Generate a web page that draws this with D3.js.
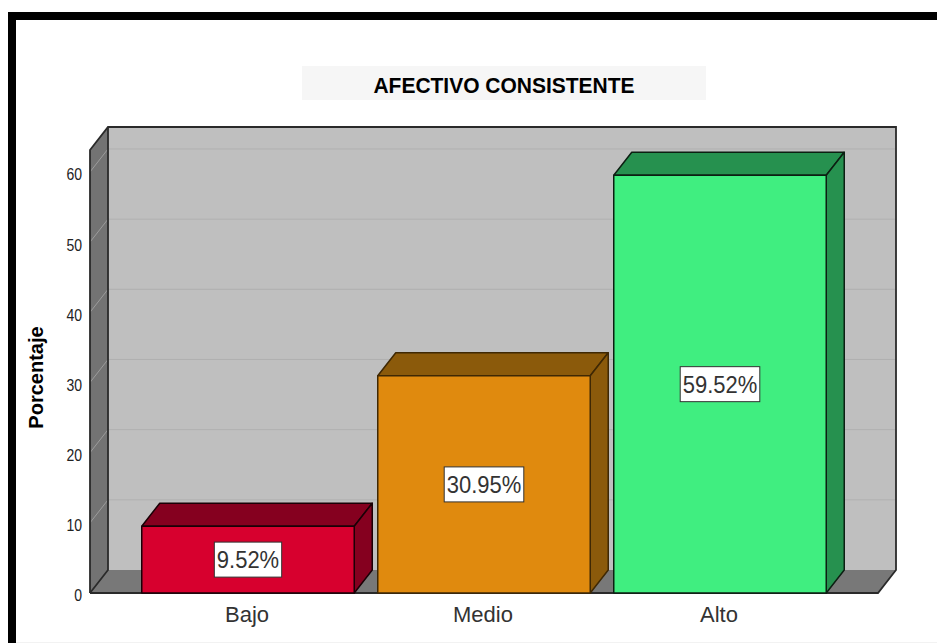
<!DOCTYPE html>
<html>
<head>
<meta charset="utf-8">
<script src="https://cdn.jsdelivr.net/npm/d3@7"></script>
<style>
  html, body { margin: 0; padding: 0; background: #fff; }
  svg { display: block; }
  text { font-family: "Liberation Sans", Arial, sans-serif; }
</style>
</head>
<body>
<svg id="chart" width="937" height="643"></svg>
<script>
const categories = ["Bajo", "Medio", "Alto"];
const percentages = [9.52, 30.95, 59.52];
const valueLabels = ["9.52%", "30.95%", "59.52%"];
const yTicks = [0, 10, 20, 30, 40, 50, 60];
const titleText = "AFECTIVO CONSISTENTE";
const yTitle = "Porcentaje";

const faceColor = d3.scaleOrdinal().domain(categories).range(["#d7002e", "#e08a0e", "#40ee80"]);
const shadeColor = d3.scaleOrdinal().domain(categories).range(["#85001f", "#8b5a0b", "#26914f"]);
const edgeColor = d3.scaleOrdinal().domain(categories).range(["#1a0006", "#3f2804", "#0c1f12"]);

const svg = d3.select("#chart");
const depthX = 18, depthY = 23;
const plot = { left: 90, right: 878, top: 150, bottom: 593 };

const y = d3.scaleLinear().domain([0, 63.13]).range([plot.bottom, plot.top]);
const x = d3.scaleBand().domain(categories).range([130, 838])
  .paddingInner(0.0996).paddingOuter(0.0498);

const poly = pts => pts.map(p => p.join(",")).join(" ");
const edge = "#2a2a2a";

// Page frame: thick rule along the top and left, hairline at the foot
svg.append("rect").attr("x", 8).attr("y", 12).attr("width", 929).attr("height", 8).attr("fill", "#000");
svg.append("rect").attr("x", 8).attr("y", 12).attr("width", 8).attr("height", 631).attr("fill", "#000");
svg.append("rect").attr("x", 16).attr("y", 642).attr("width", 921).attr("height", 1).attr("fill", "#f2f2f2");

// Title plate
svg.append("rect").attr("x", 302).attr("y", 66).attr("width", 404).attr("height", 34).attr("fill", "#f6f6f6");
svg.append("text").attr("text-anchor", "middle")
  .attr("transform", "translate(504,93) scale(1,1.06)")
  .attr("font-size", 21).attr("font-weight", "bold").attr("fill", "#000").text(titleText);

// Back wall, side wall and floor of the 3D box
svg.append("polygon")
  .attr("points", poly([[plot.left + depthX, plot.top - depthY], [plot.right + depthX, plot.top - depthY],
    [plot.right + depthX, plot.bottom - depthY], [plot.left + depthX, plot.bottom - depthY]]))
  .attr("fill", "#bfbfbf");
svg.append("polygon")
  .attr("points", poly([[plot.left, plot.top], [plot.left + depthX, plot.top - depthY],
    [plot.left + depthX, plot.bottom - depthY], [plot.left, plot.bottom]]))
  .attr("fill", "#737373");
svg.append("polygon")
  .attr("points", poly([[plot.left, plot.bottom], [plot.left + depthX, plot.bottom - depthY],
    [plot.right + depthX, plot.bottom - depthY], [plot.right, plot.bottom]]))
  .attr("fill", "#787878");

// Gridlines run along the back wall and fold down the side wall
const grid = svg.append("g").attr("fill", "none").attr("stroke-width", 1);
yTicks.filter(t => t > 0).forEach(t => {
  grid.append("line").attr("stroke", "#9c9c9c")
    .attr("x1", plot.left).attr("y1", y(t))
    .attr("x2", plot.left + depthX).attr("y2", y(t) - depthY);
  grid.append("line").attr("stroke", "#b0b0b0")
    .attr("x1", plot.left + depthX).attr("y1", y(t) - depthY)
    .attr("x2", plot.right + depthX).attr("y2", y(t) - depthY);
});

// Box outlines
const outline = svg.append("g").attr("fill", "none").attr("stroke", edge).attr("stroke-width", 1.8);
outline.append("polyline").attr("points", poly([
  [plot.left, plot.bottom], [plot.left, plot.top], [plot.left + depthX, plot.top - depthY],
  [plot.right + depthX, plot.top - depthY], [plot.right + depthX, plot.bottom - depthY], [plot.right, plot.bottom], [plot.left, plot.bottom]
]));
outline.append("polyline").attr("points", poly([
  [plot.left + depthX, plot.top - depthY], [plot.left + depthX, plot.bottom - depthY], [plot.left, plot.bottom]
]));

// Axes: the tick numerals are drawn slightly condensed
const yAxis = svg.append("g").attr("transform", `translate(${plot.left},0)`)
  .call(d3.axisLeft(y).tickValues(yTicks).tickSize(0).tickPadding(8));
yAxis.select(".domain").remove();
yAxis.selectAll("text").attr("font-size", 14).attr("fill", "#222").attr("dy", "6.9px")
  .attr("transform", "scale(1,1.15)")
  .style("font-family", '"Liberation Sans", Arial, sans-serif');

const xAxis = svg.append("g").attr("transform", `translate(-1,${plot.bottom})`)
  .call(d3.axisBottom(x).tickSize(0).tickPadding(13.4));
xAxis.select(".domain").remove();
xAxis.selectAll("text").attr("font-size", 22).attr("fill", "#333")
  .style("font-family", '"Liberation Sans", Arial, sans-serif');

svg.append("text").attr("transform", "translate(42.5,377.5) rotate(-90)")
  .attr("text-anchor", "middle").attr("font-size", 20).attr("font-weight", "bold")
  .attr("fill", "#000").text(yTitle);

// Extruded bars
const bars = svg.append("g").selectAll("g").data(categories).join("g");
bars.each(function (c, i) {
  const g = d3.select(this);
  const x0 = x(c), x1 = x0 + x.bandwidth(), yT = y(percentages[i]), yB = y(0);
  const faceStyle = s => s.attr("stroke", edgeColor(c)).attr("stroke-width", 1.5).attr("stroke-linejoin", "round");
  g.append("polygon").call(faceStyle).attr("fill", shadeColor(c))
    .attr("points", poly([[x0, yT], [x0 + depthX, yT - depthY], [x1 + depthX, yT - depthY], [x1, yT]]));
  g.append("polygon").call(faceStyle).attr("fill", shadeColor(c))
    .attr("points", poly([[x1, yT], [x1 + depthX, yT - depthY], [x1 + depthX, yB - depthY], [x1, yB]]));
  g.append("rect").call(faceStyle).attr("fill", faceColor(c))
    .attr("x", x0).attr("y", yT).attr("width", x.bandwidth()).attr("height", yB - yT);

  // Value label sits in a white plate at the centre of the front face
  const cx = x0 + x.bandwidth() / 2, cy = (yT + yB) / 2;
  const label = g.append("text").attr("text-anchor", "middle")
    .attr("transform", `translate(${cx},${cy + 8.5}) scale(1,1.12)`)
    .attr("font-size", 22).attr("fill", "#333").text(valueLabels[i]);
  const w = label.node().getBBox().width;
  g.insert("rect", "text").attr("x", cx - w / 2 - 2.5).attr("y", cy - 17.5).attr("width", w + 5).attr("height", 35)
    .attr("fill", "#fff").attr("stroke", "#333").attr("stroke-width", 1);
});
</script>
</body>
</html>
